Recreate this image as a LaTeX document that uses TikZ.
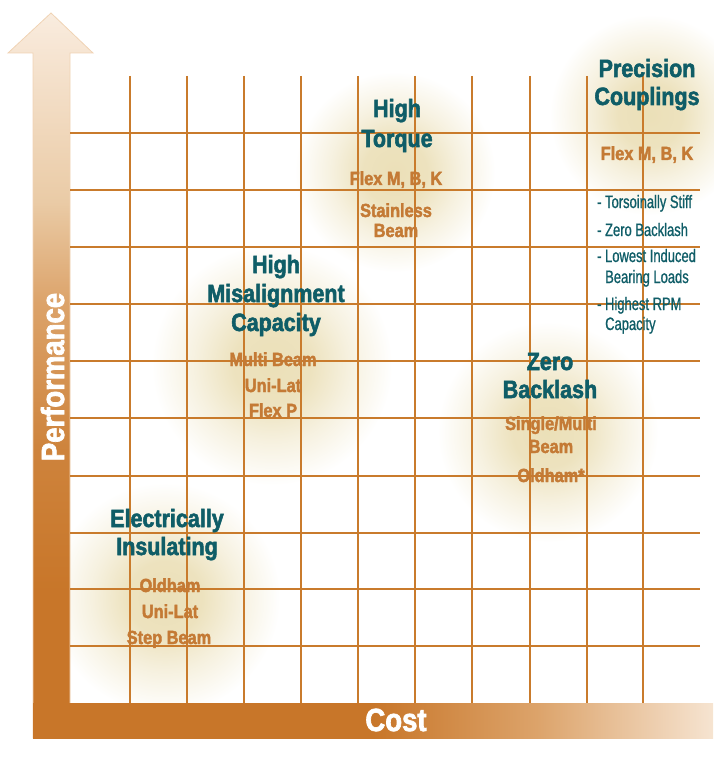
\documentclass[tikz,border=0pt]{standalone}
\usepackage{fontspec}
\setmainfont{Liberation Sans}[FakeStretch=0.86, BoldFont={Liberation Sans Bold}, BoldFeatures={FakeBold=2.2}]
\newfontfamily\narrowfont{Liberation Sans}[FakeStretch=0.72, FakeBold=0.9]
\usetikzlibrary{fadings}

\definecolor{gridC}{HTML}{C97B2C}
\definecolor{tealC}{HTML}{0F5D67}
\definecolor{itemC}{HTML}{C47A35}
\definecolor{glowC}{HTML}{E9DCB0}
\definecolor{barDark}{HTML}{C87629}
\definecolor{barMid}{HTML}{DCA36A}
\definecolor{barLight}{HTML}{EACBA6}
\definecolor{barPale}{HTML}{F6E4D1}
\definecolor{barEdge}{HTML}{F0D3B4}

\pgfdeclareverticalshading{perfshade}{100bp}{color(0bp)=(barDark); color(35bp)=(barDark); color(45bp)=(barDark!70!barMid); color(55bp)=(barMid); color(62bp)=(barLight); color(72bp)=(barPale); color(75bp)=(barPale!70!white); color(100bp)=(barPale!70!white)}
\pgfdeclarehorizontalshading{costshade}{100bp}{color(0bp)=(barDark); color(50bp)=(barDark); color(62bp)=(barMid); color(75bp)=(barPale); color(100bp)=(barPale)}
\pgfdeclareradialshading{glowshape}{\pgfpointorigin}{color(0bp)=(white!90!black); color(8bp)=(white!82!black); color(16bp)=(white!40!black); color(25bp)=(black); color(50bp)=(black)}
\pgfdeclarefading{glowfade}{\pgfuseshading{glowshape}}

\begin{document}
\begin{tikzpicture}[x=1pt, y=-1pt,
    head/.style={font=\bfseries\fontsize{25}{30}\selectfont, text=tealC, anchor=base, inner sep=0pt},
    item/.style={font=\bfseries\fontsize{19}{23}\selectfont, text=itemC, anchor=base, inner sep=0pt},
    note/.style={font=\narrowfont\fontsize{18}{22}\selectfont, text=tealC, anchor=base west, inner sep=0pt},
    axislabel/.style={font=\bfseries\fontsize{32}{36}\selectfont, text=white, anchor=base, inner sep=0pt},
    glow/.style={fill=glowC, path fading=glowfade},
    gridline/.style={draw=gridC, line width=1.4pt}]
  \useasboundingbox (0,0) rectangle (713,762);

  % soft glows behind the groups
  \fill[glow] (395,172) circle (100);
  \fill[glow] (650,115) circle (100);
  \fill[glow] (272,365) circle (120);
  \fill[glow] (548,432) circle (110);
  \fill[glow] (165,598) circle (115);

  % axes
  \shade[shading=perfshade, draw=barEdge, line width=0.8pt] (33,738) -- (33,53) -- (8,53) -- (51,13) -- (93,53) -- (70,53) -- (70,738) -- cycle;
  \shade[shading=costshade] (33,703) rectangle (713,738);

  % grid
  \draw[gridline] (130,76) -- (130,703);
  \draw[gridline] (187,76) -- (187,703);
  \draw[gridline] (244,76) -- (244,703);
  \draw[gridline] (301,76) -- (301,703);
  \draw[gridline] (358,76) -- (358,703);
  \draw[gridline] (415,76) -- (415,703);
  \draw[gridline] (472,76) -- (472,703);
  \draw[gridline] (530,76) -- (530,703);
  \draw[gridline] (587,76) -- (587,703);
  \draw[gridline] (643,76) -- (643,703);
  \draw[gridline] (70,133) -- (700,133);
  \draw[gridline] (70,190) -- (700,190);
  \draw[gridline] (70,247) -- (700,247);
  \draw[gridline] (70,304) -- (700,304);
  \draw[gridline] (70,361) -- (700,361);
  \draw[gridline] (70,418) -- (700,418);
  \draw[gridline] (70,476) -- (700,476);
  \draw[gridline] (70,533) -- (700,533);
  \draw[gridline] (70,589) -- (700,589);
  \draw[gridline] (70,646) -- (700,646);

  % axis labels
  \node[axislabel] (cost) at (396,731) {Cost};
  \node[axislabel, rotate=90] (perf) at (64,377) {Performance};

  % high torque
  \node[head] (torque1) at (397,117) {High};
  \node[head] (torque2) at (397,147) {Torque};
  \node[item] (torque3) at (396,185) {Flex M, B, K};
  \node[item] (torque4) at (396,217) {Stainless};
  \node[item] (torque5) at (396,237) {Beam};

  % precision couplings
  \node[head] (prec1) at (647,77) {Precision};
  \node[head] (prec2) at (647,105) {Couplings};
  \node[item] (prec3) at (647,160) {Flex M, B, K};
  \node[note] (prec4) at (597,208) {- Torsoinally Stiff};
  \node[note] (prec5) at (597,236) {- Zero Backlash};
  \node[note] (prec6) at (597,262) {- Lowest Induced};
  \node[note] (prec7) at (605,283) {Bearing Loads};
  \node[note] (prec8) at (597,310) {- Highest RPM};
  \node[note] (prec9) at (605,330) {Capacity};

  % high misalignment
  \node[head] (misal1) at (276,273) {High};
  \node[head] (misal2) at (276,302) {Misalignment};
  \node[head] (misal3) at (276,331) {Capacity};
  \node[item] (misal4) at (273,366) {Multi Beam};
  \node[item] (misal5) at (273,392) {Uni-Lat};
  \node[item] (misal6) at (273,417) {Flex P};

  % zero backlash
  \node[head] (zero1) at (550,370) {Zero};
  \node[head] (zero2) at (550,398) {Backlash};
  \node[item] (zero3) at (551,430) {Single/Multi};
  \node[item] (zero4) at (551,453) {Beam};
  \node[item] (zero5) at (551,482) {Oldham*};

  % electrically insulating
  \node[head] (elec1) at (167,527) {Electrically};
  \node[head] (elec2) at (167,555) {Insulating};
  \node[item] (elec3) at (170,592) {Oldham};
  \node[item] (elec4) at (170,618) {Uni-Lat};
  \node[item] (elec5) at (169,644) {Step Beam};
\end{tikzpicture}
\end{document}
